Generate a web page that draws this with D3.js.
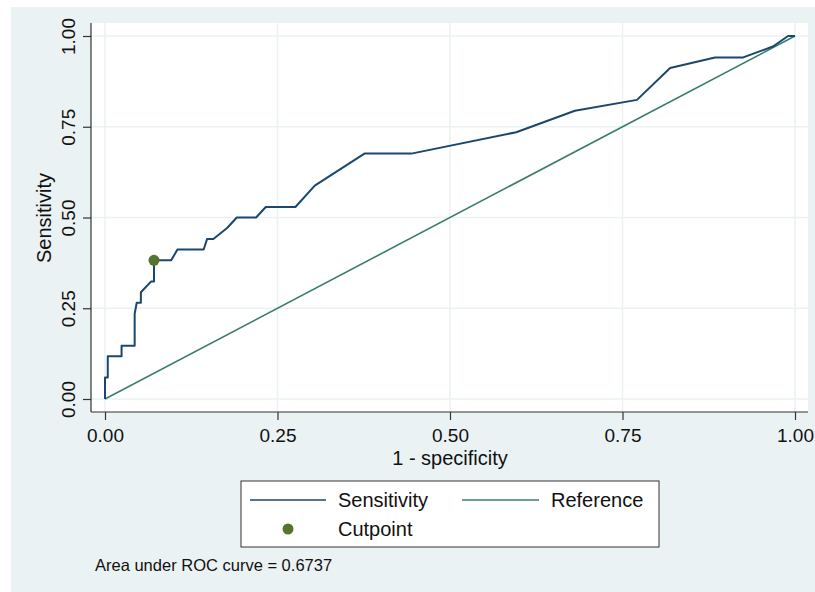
<!DOCTYPE html>
<html>
<head>
<meta charset="utf-8">
<script src="https://cdn.jsdelivr.net/npm/d3@7"></script>
<style>
  body { margin: 0; background: #ffffff; }
  text { font-family: "Liberation Sans", Arial, sans-serif; fill: #111; }
</style>
</head>
<body>
<div id="chart"></div>
<script>
// ROC curve points
const fpr = [0, 0, 0.004, 0.004, 0.024, 0.024, 0.043, 0.043, 0.046, 0.052, 0.052, 0.067, 0.071, 0.071,
  0.096, 0.105, 0.143, 0.148, 0.157, 0.177, 0.191, 0.219, 0.233, 0.276, 0.304, 0.376, 0.444,
  0.596, 0.681, 0.771, 0.819, 0.884, 0.925, 0.968, 0.99, 1];
const sens = [0, 0.059, 0.059, 0.118, 0.118, 0.147, 0.147, 0.235, 0.265, 0.265, 0.294, 0.324, 0.324, 0.382,
  0.382, 0.412, 0.412, 0.441, 0.441, 0.471, 0.5, 0.5, 0.529, 0.529, 0.588, 0.676, 0.676,
  0.735, 0.794, 0.824, 0.912, 0.941, 0.941, 0.971, 1, 1];
const refLine = [[0, 0], [1, 1]];
const cutpoint = [0.071, 0.382];
const ticks = [0, 0.25, 0.5, 0.75, 1];
const aucNote = "Area under ROC curve = 0.6737";

const width = 815;
const height = 592;

const svg = d3.select("#chart")
    .append("svg")
    .attr("width", width)
    .attr("height", height);

// outer background
svg.append("rect")
    .attr("x", 11).attr("y", 7)
    .attr("width", width - 11).attr("height", height - 7)
    .attr("fill", "#eaf2f3");

// plot region
const plot = { left: 91, right: 808, top: 23, bottom: 412 };
svg.append("rect")
    .attr("x", plot.left).attr("y", plot.top)
    .attr("width", plot.right - plot.left).attr("height", plot.bottom - plot.top)
    .attr("fill", "#ffffff");

const x = d3.scaleLinear().domain([0, 1]).range([105, 795]);
const y = d3.scaleLinear().domain([0, 1]).range([399, 36]);

// grid lines
svg.append("g").selectAll("line.h")
    .data(ticks).join("line")
    .attr("x1", plot.left).attr("x2", plot.right)
    .attr("y1", d => y(d)).attr("y2", d => y(d))
    .attr("stroke", "#eaf2f3").attr("stroke-width", 1.5);
svg.append("g").selectAll("line.v")
    .data(ticks).join("line")
    .attr("y1", plot.top).attr("y2", plot.bottom)
    .attr("x1", d => x(d)).attr("x2", d => x(d))
    .attr("stroke", "#eaf2f3").attr("stroke-width", 1.5);

// axes
const xAxis = d3.axisBottom(x).tickValues(ticks).tickFormat(d3.format(".2f")).tickSize(8).tickSizeOuter(0);
const yAxis = d3.axisLeft(y).tickValues(ticks).tickFormat(d3.format(".2f")).tickSize(8).tickSizeOuter(0);

const gx = svg.append("g")
    .attr("transform", `translate(0, ${plot.bottom})`)
    .call(xAxis);
gx.select(".domain").attr("d", `M${plot.left},0H${plot.right}`);
gx.selectAll("text")
    .attr("font-size", 19)
    .attr("font-family", "Liberation Sans, Arial, sans-serif")
    .attr("fill", "#111")
    .attr("dy", "1.0em");

const gy = svg.append("g")
    .attr("transform", `translate(${plot.left}, 0)`)
    .call(yAxis);
gy.select(".domain").attr("d", `M0,${plot.top}V${plot.bottom}`);
gy.selectAll(".tick text")
    .attr("font-size", 19)
    .attr("font-family", "Liberation Sans, Arial, sans-serif")
    .attr("fill", "#111")
    .attr("text-anchor", "middle")
    .attr("x", 0).attr("dy", 0)
    .attr("transform", "translate(-16, 0) rotate(-90)");

svg.selectAll(".domain, .tick line").attr("stroke", "#333").attr("stroke-width", 1.2);

// axis titles
svg.append("text")
    .attr("x", 450).attr("y", 465)
    .attr("text-anchor", "middle")
    .attr("font-size", 20)
    .text("1 - specificity");

svg.append("text")
    .attr("transform", "rotate(-90)")
    .attr("x", -218).attr("y", 51)
    .attr("text-anchor", "middle")
    .attr("font-size", 20)
    .text("Sensitivity");

// reference diagonal
const line = d3.line().x(d => x(d[0])).y(d => y(d[1]));
svg.append("path")
    .datum(refLine)
    .attr("fill", "none")
    .attr("stroke", "#3a7d6e")
    .attr("stroke-width", 1.6)
    .attr("d", line);

// ROC curve
const rocData = fpr.map((f, i) => [f, sens[i]]);
svg.append("path")
    .datum(rocData)
    .attr("fill", "none")
    .attr("stroke", "#1a476f")
    .attr("stroke-width", 2)
    .attr("stroke-linejoin", "round")
    .attr("d", line);

// cutpoint
svg.append("circle")
    .attr("cx", x(cutpoint[0])).attr("cy", y(cutpoint[1]))
    .attr("r", 5.5)
    .attr("fill", "#55752f");

// legend
const legend = svg.append("g");
legend.append("rect")
    .attr("x", 241).attr("y", 481)
    .attr("width", 418).attr("height", 66)
    .attr("fill", "#ffffff")
    .attr("stroke", "#333").attr("stroke-width", 1);

legend.append("line")
    .attr("x1", 250).attr("x2", 326).attr("y1", 500).attr("y2", 500)
    .attr("stroke", "#1a476f").attr("stroke-width", 1.6);
legend.append("text")
    .attr("x", 338).attr("y", 507)
    .attr("font-size", 20)
    .text("Sensitivity");

legend.append("line")
    .attr("x1", 462).attr("x2", 539).attr("y1", 500).attr("y2", 500)
    .attr("stroke", "#3a7d6e").attr("stroke-width", 1.6);
legend.append("text")
    .attr("x", 551).attr("y", 507)
    .attr("font-size", 20)
    .text("Reference");

legend.append("circle")
    .attr("cx", 288).attr("cy", 529).attr("r", 5.5)
    .attr("fill", "#55752f");
legend.append("text")
    .attr("x", 338).attr("y", 536)
    .attr("font-size", 20)
    .text("Cutpoint");

// note
svg.append("text")
    .attr("x", 95).attr("y", 571)
    .attr("font-size", 16.5)
    .text(aucNote);
</script>
</body>
</html>
